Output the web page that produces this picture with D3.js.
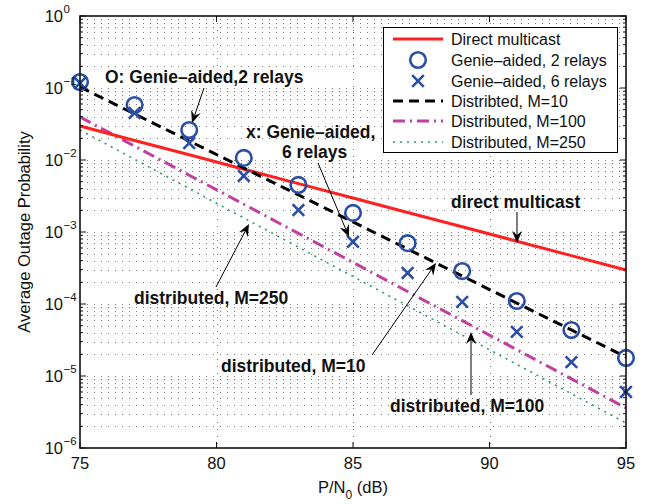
<!DOCTYPE html>
<html>
<head>
<meta charset="utf-8">
<script src="https://cdn.jsdelivr.net/npm/d3@7"></script>
<style>
  html, body { margin: 0; padding: 0; background: #fff; }
  svg { display: block; font-family: "Liberation Sans", Arial, Helvetica, sans-serif; }
</style>
</head>
<body>
<svg id="chart" width="646" height="504"></svg>
<script>
// P/N0 values (dB) at which every curve is evaluated
const snr = [75, 77, 79, 81, 83, 85, 87, 89, 91, 93, 95];

// Average outage probability for each scheme
const directMulticast = [0.0296, 0.0187, 0.0118, 7.45e-3, 4.70e-3, 2.97e-3, 1.87e-3, 1.18e-3, 7.45e-4, 4.70e-4, 2.97e-4];
const genie2Relays   = [0.121, 0.058, 0.0261, 0.0107, 4.5e-3, 1.84e-3, 7.0e-4, 2.87e-4, 1.10e-4, 4.35e-5, 1.78e-5];
const genie6Relays   = [0.117, 0.045, 0.0172, 6.0e-3, 2.02e-3, 7.3e-4, 2.7e-4, 1.07e-4, 4.1e-5, 1.56e-5, 6.0e-6];
const distM10        = [0.1033, 0.0436, 0.01837, 7.74e-3, 3.27e-3, 1.38e-3, 5.81e-4, 2.45e-4, 1.03e-4, 4.36e-5, 1.84e-5];
const distM100       = [0.03954, 0.0156, 6.15e-3, 2.43e-3, 9.57e-4, 3.78e-4, 1.49e-4, 5.87e-5, 2.32e-5, 9.14e-6, 3.6e-6];
const distM250       = [0.02612, 0.01023, 4.01e-3, 1.57e-3, 6.15e-4, 2.41e-4, 9.44e-5, 3.70e-5, 1.45e-5, 5.68e-6, 2.22e-6];

// Axis ticks
const xTicks = [75, 80, 85, 90, 95];
const yExponents = [0, -1, -2, -3, -4, -5, -6];

const legendLabels = ["Direct multicast", "Genie\u2013aided, 2 relays", "Genie\u2013aided, 6 relays",
                      "Distribted, M=10", "Distributed, M=100", "Distributed, M=250"];

const svg = d3.select("#chart");
const L = 80, R = 626, T = 16, B = 448;

const x = d3.scaleLinear().domain([75, 95]).range([L, R]);
const y = d3.scaleLog().domain([1e-6, 1]).range([B, T]);

const blue = "#2b4fa6", red = "#ff2020", magenta = "#c13fa0", green = "#2a9d5c";

// ---- grid ----
const grid = svg.append("g").attr("stroke", "#7a7a7a").attr("stroke-width", 1)
  .attr("stroke-dasharray", "1,6").attr("fill", "none");
const yGridVals = [];
for (let e = -6; e < 0; e++) for (let m = 1; m < 10; m++) yGridVals.push(m * Math.pow(10, e));
yGridVals.forEach(v => {
  const yy = Math.round(y(v)) + 0.5;
  if (yy > B - 1 || yy < T + 1) return;
  grid.append("line").attr("x1", L).attr("x2", R).attr("y1", yy).attr("y2", yy);
});
[80, 85, 90].forEach(v => {
  const xx = Math.round(x(v)) + 0.5;
  grid.append("line").attr("x1", xx).attr("x2", xx).attr("y1", T).attr("y2", B);
});

// ---- curves ----
const plot = svg.append("g");
const line = d3.line().x((d, i) => x(snr[i])).y(d => y(d));

plot.append("path").datum(distM250).attr("d", line).attr("fill", "none")
  .attr("stroke", green).attr("stroke-width", 1.6).attr("stroke-dasharray", "2,5");
plot.append("path").datum(distM100).attr("d", line).attr("fill", "none")
  .attr("stroke", magenta).attr("stroke-width", 3).attr("stroke-dasharray", "12,5,2,5");
plot.append("path").datum(directMulticast).attr("d", line).attr("fill", "none")
  .attr("stroke", red).attr("stroke-width", 3);
plot.append("path").datum(distM10).attr("d", line).attr("fill", "none")
  .attr("stroke", "#000").attr("stroke-width", 3).attr("stroke-dasharray", "10,6");

// markers
plot.selectAll("circle.g2").data(genie2Relays).join("circle")
  .attr("cx", (d, i) => x(snr[i])).attr("cy", d => y(d)).attr("r", 7.8)
  .attr("fill", "none").attr("stroke", blue).attr("stroke-width", 2.6);

const xMark = s => `M${-s},${-s}L${s},${s}M${-s},${s}L${s},${-s}`;
plot.selectAll("path.g6").data(genie6Relays).join("path")
  .attr("transform", (d, i) => `translate(${x(snr[i])},${y(d)})`)
  .attr("d", xMark(5.8)).attr("fill", "none").attr("stroke", blue).attr("stroke-width", 2.6);

// ---- annotations ----
const ann = svg.append("g");
function arrow(x1, y1, x2, y2) {
  const dx = x2 - x1, dy = y2 - y1, len = Math.hypot(dx, dy);
  const ux = dx / len, uy = dy / len, nx = -uy, ny = ux;
  const hl = 12, hw = 5, inset = 4;
  ann.append("line").attr("x1", x1).attr("y1", y1)
    .attr("x2", x2 - ux * (hl - inset)).attr("y2", y2 - uy * (hl - inset))
    .attr("stroke", "#000").attr("stroke-width", 1);
  const p = [
    [x2, y2],
    [x2 - ux * hl + nx * hw, y2 - uy * hl + ny * hw],
    [x2 - ux * (hl - inset), y2 - uy * (hl - inset)],
    [x2 - ux * hl - nx * hw, y2 - uy * hl - ny * hw]
  ];
  ann.append("path").attr("d", "M" + p.map(q => q.join(",")).join("L") + "Z").attr("fill", "#000");
}
function label(txt, tx, ty) {
  ann.append("text").attr("x", tx).attr("y", ty).attr("font-size", 17.5)
    .attr("font-weight", "bold").attr("fill", "#111").text(txt);
}
label("O: Genie\u2013aided,2 relays", 105, 83);
arrow(204, 88, 192, 123);
label("x: Genie\u2013aided,", 246, 138);
label("6 relays", 282, 158);
arrow(318, 163, 349, 237);
label("direct multicast", 451, 208);
arrow(517, 212, 517, 243);
label("distributed, M=250", 134, 304);
arrow(216, 287, 249, 224);
label("distributed, M=10", 221, 372);
arrow(372, 355, 436, 263);
label("distributed, M=100", 390, 412);
arrow(471, 395, 471, 332);

// ---- legend ----
const lg = svg.append("g");
lg.append("rect").attr("x", 383.5).attr("y", 27.5).attr("width", 234).attr("height", 125)
  .attr("fill", "#fff").attr("stroke", "#000").attr("stroke-width", 1);
const rowY = [39, 60, 81, 101, 121, 142];
const sx1 = 393, sx2 = 443, sxm = 418;
lg.append("line").attr("x1", sx1).attr("x2", sx2).attr("y1", rowY[0]).attr("y2", rowY[0])
  .attr("stroke", red).attr("stroke-width", 3);
lg.append("circle").attr("cx", sxm).attr("cy", rowY[1]).attr("r", 7.8)
  .attr("fill", "none").attr("stroke", blue).attr("stroke-width", 2.6);
lg.append("path").attr("transform", `translate(${sxm},${rowY[2]})`).attr("d", xMark(5.8))
  .attr("fill", "none").attr("stroke", blue).attr("stroke-width", 2.6);
lg.append("line").attr("x1", sx1).attr("x2", sx2).attr("y1", rowY[3]).attr("y2", rowY[3])
  .attr("stroke", "#000").attr("stroke-width", 3).attr("stroke-dasharray", "10,6");
lg.append("line").attr("x1", sx1).attr("x2", sx2).attr("y1", rowY[4]).attr("y2", rowY[4])
  .attr("stroke", magenta).attr("stroke-width", 3).attr("stroke-dasharray", "12,5,2,5");
lg.append("line").attr("x1", sx1).attr("x2", sx2).attr("y1", rowY[5]).attr("y2", rowY[5])
  .attr("stroke", green).attr("stroke-width", 1.6).attr("stroke-dasharray", "2,5");
legendLabels.forEach((t, i) => {
  lg.append("text").attr("x", 451).attr("y", rowY[i] + 5.5).attr("font-size", 16)
    .attr("fill", "#111").text(t);
});

// ---- axes ----
const ax = svg.append("g").attr("stroke", "#111").attr("fill", "none");
// bottom/top ticks
xTicks.forEach(v => {
  const xx = x(v);
  ax.append("line").attr("x1", xx).attr("x2", xx).attr("y1", B).attr("y2", B - 6).attr("stroke-width", 1);
  ax.append("line").attr("x1", xx).attr("x2", xx).attr("y1", T).attr("y2", T + 6).attr("stroke-width", 1);
});
// left/right ticks (major and minor)
yGridVals.concat([1]).forEach(v => {
  const yy = y(v);
  const major = Math.abs(Math.log10(v) - Math.round(Math.log10(v))) < 1e-9;
  const len = major ? 6 : 3;
  ax.append("line").attr("x1", L).attr("x2", L + len).attr("y1", yy).attr("y2", yy).attr("stroke-width", 1);
  ax.append("line").attr("x1", R).attr("x2", R - len).attr("y1", yy).attr("y2", yy).attr("stroke-width", 1);
});
ax.append("rect").attr("x", L).attr("y", T).attr("width", R - L).attr("height", B - T)
  .attr("stroke-width", 1.6);

// tick labels
const tl = svg.append("g").attr("fill", "#111").attr("font-size", 16.5);
xTicks.forEach(v => {
  tl.append("text").attr("x", x(v)).attr("y", 469).attr("text-anchor", "middle").text(v);
});
yExponents.forEach(e => {
  const yy = y(Math.pow(10, e));
  tl.append("text").attr("x", 63).attr("y", yy + 6).attr("text-anchor", "end").text("10");
  tl.append("text").attr("x", 63.5).attr("y", yy - 3).attr("font-size", 11.5)
    .text(e === 0 ? "0" : "\u2212" + Math.abs(e));
});

// axis titles
const xt = svg.append("text").attr("x", 353).attr("y", 493).attr("text-anchor", "middle")
  .attr("font-size", 16.5).attr("fill", "#111");
xt.append("tspan").text("P/N");
xt.append("tspan").attr("font-size", 12).attr("dy", 6).text("0");
xt.append("tspan").attr("dy", -6).text(" (dB)");

svg.append("text").attr("transform", "translate(30,232) rotate(-90)").attr("text-anchor", "middle")
  .attr("font-size", 16.5).attr("fill", "#111").text("Average Outage Probability");
</script>
</body>
</html>
